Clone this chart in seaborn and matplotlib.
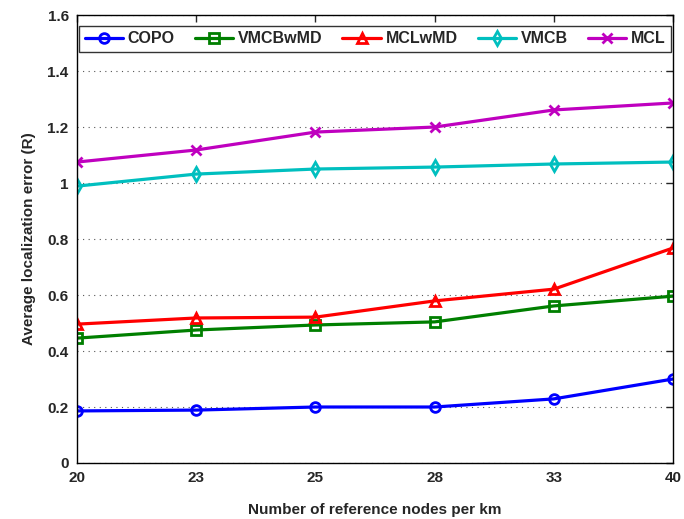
import matplotlib
matplotlib.use("Agg")
import matplotlib.pyplot as plt
import numpy as np
import pandas as pd
import seaborn as sns

nodes = ["20", "23", "25", "28", "33", "40"]
copo = [0.186, 0.189, 0.200, 0.200, 0.229, 0.300]
vmcbwmd = [0.446, 0.475, 0.493, 0.504, 0.561, 0.596]
mclwmd = [0.496, 0.518, 0.521, 0.579, 0.621, 0.768]
vmcb = [0.989, 1.032, 1.050, 1.057, 1.068, 1.075]
mcl = [1.075, 1.118, 1.182, 1.200, 1.261, 1.286]

series = {"COPO": copo, "VMCBwMD": vmcbwmd, "MCLwMD": mclwmd, "VMCB": vmcb, "MCL": mcl}
colors = {"COPO": "#0000ff", "VMCBwMD": "#007f00", "MCLwMD": "#ff0000", "VMCB": "#00bfbf", "MCL": "#bf00bf"}
markers = {"COPO": "o", "VMCBwMD": "s", "MCLwMD": "^", "VMCB": "d", "MCL": "x"}

sns.set_style("white")
plt.rcParams["font.family"] = ["Liberation Sans", "DejaVu Sans"]
plt.rcParams["font.weight"] = "bold"

fig = plt.figure(figsize=(6.84, 5.19), dpi=100)
ax = fig.add_axes([0.1126, 0.1079, 0.8714, 0.8631])

pos = np.arange(len(nodes))
for name, vals in series.items():
    df = pd.DataFrame({"x": pos, "y": vals})
    sns.lineplot(data=df, x="x", y="y", ax=ax, color=colors[name], marker=markers[name],
                 markersize=7, markerfacecolor="none", markeredgecolor=colors[name],
                 markeredgewidth=2, linewidth=2.3, label=name)

ax.set_xlim(0, len(nodes) - 1)
ax.set_ylim(0, 1.6)
ax.set_xticks(pos)
ax.set_xticklabels(nodes)
yt = np.arange(0, 1.61, 0.2)
ax.set_yticks(yt)
ax.set_yticklabels(["0", "0.2", "0.4", "0.6", "0.8", "1", "1.2", "1.4", "1.6"])
ax.tick_params(direction="in", top=True, right=True, length=5, width=1, labelsize=11, pad=6)
for s in ax.spines.values():
    s.set_color("black")
    s.set_linewidth(1)
ax.yaxis.grid(True, linestyle=(0, (1, 4)), color="#555555", linewidth=0.8)
ax.xaxis.grid(False)

ax.set_xlabel("Number of reference nodes per km", fontsize=11, fontweight="bold", labelpad=13)
ax.set_ylabel("Average localization error (R)", fontsize=11, fontweight="bold", labelpad=8)

leg = ax.legend(loc="upper center", ncol=5, bbox_to_anchor=(0.5, 0.976), frameon=True, fancybox=False,
                edgecolor="black", fontsize=11.5, handlelength=2.4, columnspacing=1.25, handletextpad=0.3,
                borderpad=0.35, borderaxespad=0)
leg.get_frame().set_linewidth(1)

fig.savefig("out.png", dpi=100)
